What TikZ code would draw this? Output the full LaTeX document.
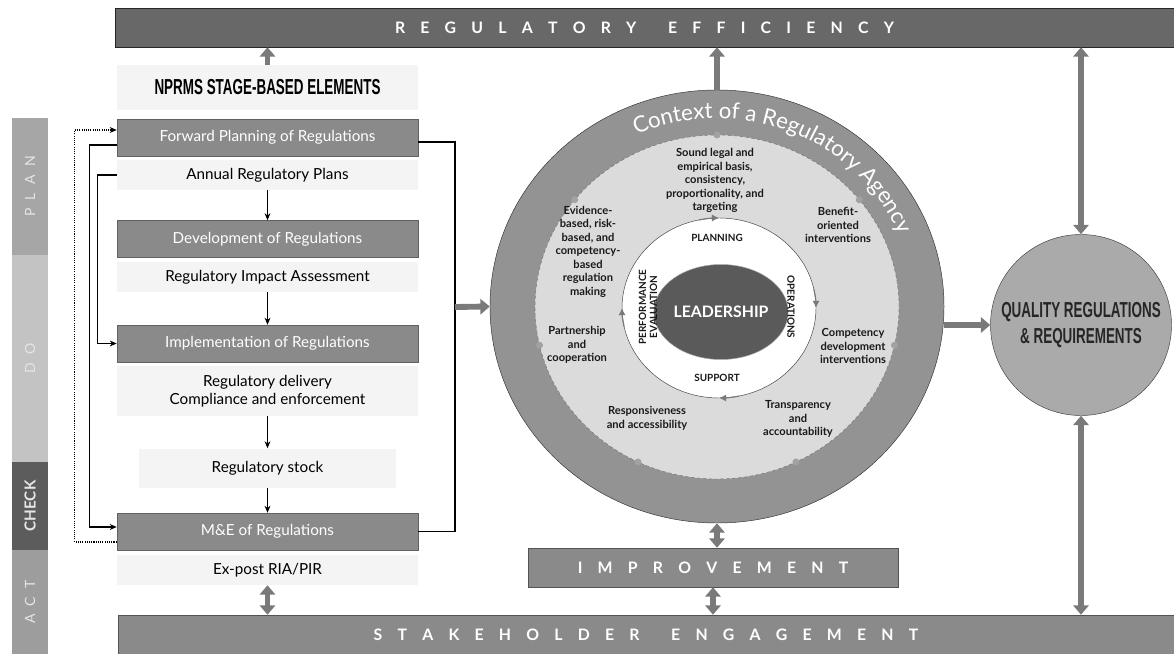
\documentclass[tikz,border=0pt]{standalone}
\usepackage{fontspec}
\setmainfont{Lato}
\newfontfamily\condfont[FakeStretch=0.62]{Liberation Sans}
\usetikzlibrary{positioning,arrows.meta,shapes.geometric,decorations.text}

\definecolor{bardark}{HTML}{686868}
\definecolor{boxgray}{HTML}{8A8A8A}
\definecolor{ringgray}{HTML}{939393}
\definecolor{discgray}{HTML}{DBDBDB}
\definecolor{leadgray}{HTML}{5A5A5A}
\definecolor{qualgray}{HTML}{AAAAAA}
\definecolor{plangray}{HTML}{A6A6A6}
\definecolor{dogray}{HTML}{C3C3C3}
\definecolor{checkgray}{HTML}{5C5C5C}
\definecolor{actgray}{HTML}{9D9D9D}
\definecolor{arrowgray}{HTML}{7A7A7A}
\definecolor{notegray}{HTML}{F4F4F4}

\newcommand{\barfont}{\fontsize{13.5}{15}\selectfont\bfseries\spaceskip 13pt\relax}
\newcommand{\phasefont}{\fontsize{12}{14}\selectfont\spaceskip 7pt\relax}
\newcommand{\stagefont}{\fontsize{13}{15.5}\selectfont}
\newcommand{\themefont}{\fontsize{9.5}{11.5}\selectfont\bfseries}
\newcommand{\cyclefont}{\fontsize{8.5}{9.5}\selectfont\bfseries}
\newcommand{\titlefont}{\condfont\bfseries\fontsize{18.5}{22}\selectfont}
\newcommand{\ctxfont}{\fontsize{19}{21}\selectfont}

\tikzset{
  bar/.style={draw=black!85, fill=bardark, text=white, font=\barfont,
    minimum height=1.17cm, inner sep=0pt},
  stagebox/.style={draw=boxgray!70!black, fill=boxgray, text=white, font=\stagefont,
    minimum width=9.03cm, minimum height=1.11cm, inner sep=0pt},
  note/.style={fill=notegray, font=\stagefont, align=center,
    minimum width=9.03cm, minimum height=0.9cm, inner sep=2pt},
  phase/.style={rotate=90, minimum height=1.08cm, inner sep=0pt, text=white!90!black,
    font=\phasefont},
  theme/.style={font=\themefont, align=center, text=black!90},
  cycle/.style={font=\cyclefont, align=center, text=black!90, inner sep=1pt},
  flow/.style={line width=0.9pt, -{Stealth[length=6pt,width=5pt]}},
  bracket/.style={line width=1.2pt},
  bigarrow/.style={arrowgray, line width=5pt, -{Triangle[length=8pt,width=13pt]}},
  bothways/.style={arrowgray, line width=5pt,
    {Triangle[length=8pt,width=13pt]}-{Triangle[length=8pt,width=13pt]}},
}

\begin{document}
\begin{tikzpicture}[x=0.03cm, y=0.03cm]
  \useasboundingbox (0,0) rectangle (1174,-654);

  % outer bars
  \node[bar, minimum width=31.77cm] (eff) at (644.5,-27.5)
    {R E G U L A T O R Y\hspace{14pt} E F F I C I E N C Y};
  \node[bar, fill=boxgray, draw=boxgray!60!black, minimum width=31.68cm] (stake) at (646,-634.5)
    {S T A K E H O L D E R\hspace{14pt} E N G A G E M E N T};

  % PDCA strip
  \node[phase, fill=plangray, minimum width=4.11cm] (plan) at (30,-186.5) {P L A N};
  \node[phase, fill=dogray, minimum width=6.21cm] (do) at (30,-358.5) {D O};
  \node[phase, fill=checkgray, minimum width=2.64cm, font=\fontsize{13}{15}\selectfont\bfseries] (check) at (30,-506) {CHECK};
  \node[phase, fill=actgray, minimum width=3.12cm] (act) at (30,-602) {A C T};

  % stage-based elements
  \node[note, font=\titlefont, minimum height=1.35cm] (header) at (267.5,-87.5) {NPRMS STAGE-BASED ELEMENTS};
  \node[stagebox] (fwd) at (267.5,-137.5) {Forward Planning of Regulations};
  \node[note] (plans) at (267.5,-175) {Annual Regulatory Plans};
  \node[stagebox] (dev) at (267.5,-239) {Development of Regulations};
  \node[note] (ria) at (267.5,-277) {Regulatory Impact Assessment};
  \node[stagebox] (imp) at (267.5,-343.5) {Implementation of Regulations};
  \node[note, minimum height=1.5cm] (delivery) at (267.5,-391) {Regulatory delivery\\Compliance and enforcement};
  \node[note, minimum width=7.71cm, minimum height=1.17cm] (stock) at (267.5,-468) {Regulatory stock};
  \node[stagebox] (mne) at (267.5,-531.5) {M\&E of Regulations};
  \node[note] (expost) at (267.5,-570) {Ex-post RIA/PIR};

  \draw[flow] (plans) -- (dev);
  \draw[flow] (ria) -- (imp);
  \draw[flow] (delivery) -- (stock);
  \draw[flow] (stock) -- (mne);

  % feedback loops on the left
  \draw[flow] ([yshift=-0.225cm]fwd.west) -- ++(-27,0) |- ([yshift=0.135cm]mne.west);
  \draw[flow] (fwd.west |- plans) -- ++(-19,0) |- (imp.west);
  \draw[flow, densely dotted] ([yshift=-0.315cm]mne.west) -- ++(-42,0) |- ([yshift=0.225cm]fwd.west);

  % bracket into the agency circle
  \coordinate (brk) at (455,-307);
  \draw[bracket] ([yshift=-0.135cm]fwd.east) -| (brk) |- (mne.east);

  % context of a regulatory agency
  \node[ellipse, draw=black!80, fill=ringgray, minimum width=13.62cm, minimum height=12.99cm] (ctx) at (717,-306.5) {};
  \node[ellipse, draw=black!55, densely dashed, fill=discgray, minimum width=10.92cm, minimum height=10.32cm] (disc) at (717,-307) {};
  \path[decorate, decoration={text along path, text align=center,
      text={|\ctxfont\color{white}|Context of a Regulatory Agency}}]
    (717,-306.5) ++(128:197 and 188) arc[start angle=128, end angle=8, x radius=197, y radius=188];
  \foreach \k in {0,...,6}
    \fill[arrowgray!70] (717,-307) ++({90-51.43*\k}:182 and 172) circle[radius=3.5];

  \node[ellipse, draw=black!75, fill=white, minimum width=5.82cm, minimum height=5.4cm] (wring) at (719,-308) {};
  \foreach \a in {90,0,-90,180}
    \draw[arrowgray, line width=1pt, -{Latex[length=6pt,width=6pt]}]
      (719,-308) ++({\a+12}:97 and 90) arc[start angle=\a+12, end angle=\a, x radius=97, y radius=90];
  \node[ellipse, draw=black!35, fill=leadgray, text=white, minimum width=3.12cm, minimum height=2.85cm,
    inner sep=0pt, font=\fontsize{13.5}{15}\selectfont\bfseries] (lead) at (721,-312) {LEADERSHIP};

  \node[cycle] (planning) at (717,-238) {PLANNING};
  \node[cycle] (support) at (717,-378) {SUPPORT};
  \node[cycle, rotate=-90] (operations) at (791,-307) {OPERATIONS};
  \node[cycle, rotate=90] (perfeval) at (648,-307) {PERFORMANCE\\EVALUATION};

  \node[theme] (sound) at (715,-180.5) {Sound legal and\\empirical basis,\\consistency,\\proportionality, and\\targeting};
  \node[theme] (benefit) at (838,-225) {Benefit-\\oriented\\interventions};
  \node[theme] (compet) at (853,-346) {Competency\\development\\interventions};
  \node[theme] (transp) at (798,-419) {Transparency\\and\\accountability};
  \node[theme] (respons) at (647,-418.5) {Responsiveness\\and accessibility};
  \node[theme] (partner) at (577,-345) {Partnership\\and\\cooperation};
  \node[theme] (evidence) at (588,-251.5) {Evidence-\\based, risk-\\based, and\\competency-\\based\\regulation\\making};

  % improvement and outcome
  \node[bar, fill=boxgray, draw=boxgray!60!black, minimum width=11.1cm] (impr) at (713,-567.5) {I M P R O V E M E N T};
  \node[circle, draw=black!75, fill=qualgray, minimum size=5.43cm, inner sep=0pt, align=center, text=black!85,
    font=\titlefont] (qual) at (1081,-325) {QUALITY REGULATIONS\\\& REQUIREMENTS};

  % block arrows
  \draw[bigarrow] (header.north) -- (header.north |- eff.south);
  \draw[bigarrow] (brk) -- (ctx.west);
  \draw[bigarrow] (ctx.north) -- (ctx.north |- eff.south);
  \draw[bigarrow] (ctx.east |- qual.west) -- (qual.west);
  \draw[bothways] (ctx.south) -- (ctx.south |- impr.north);
  \draw[bothways] (impr.south) -- (impr.south |- stake.north);
  \draw[bothways] (expost.south) -- (expost.south |- stake.north);
  \draw[bothways] (qual.north) -- (qual.north |- eff.south);
  \draw[bothways] (qual.south) -- (qual.south |- stake.north);
\end{tikzpicture}
\end{document}
